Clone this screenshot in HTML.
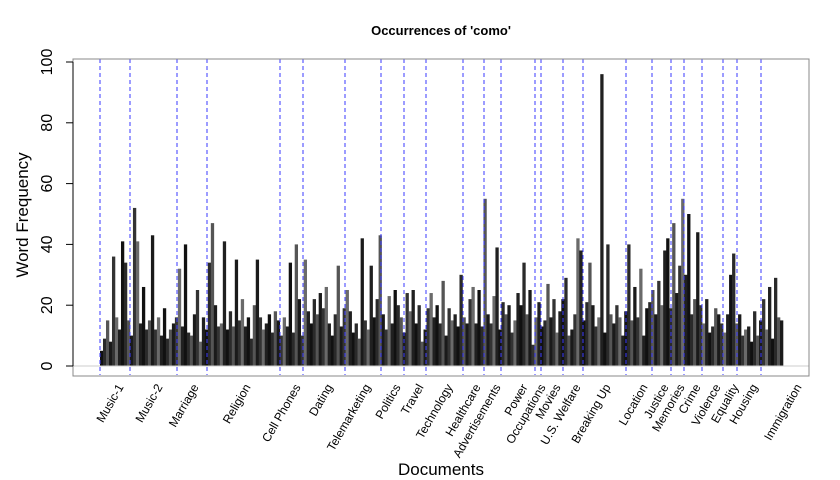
<!DOCTYPE html>
<html><head><meta charset="utf-8"><style>body{margin:0;background:#fff}svg{display:block;font-family:"Liberation Sans",sans-serif}</style></head>
<body>
<svg id="chart" width="840" height="480" viewBox="0 0 840 480">
<text x="441" y="35" text-anchor="middle" font-size="13" font-weight="bold">Occurrences of 'como'</text>
<text transform="translate(28,215) rotate(-90)" text-anchor="middle" font-size="17">Word Frequency</text>
<text x="441" y="475" text-anchor="middle" font-size="17">Documents</text>
<g id="bars"></g>
<g id="vlines"></g>
<g id="axes"></g>
</svg>
<script>
const values = [
5,9,15,8,36,16,12,41,34,15,
10,52,41,14,26,12,15,43,12,16,
10,19,9,12,14,16,32,13,40,11,
10,17,25,8,16,12,34,47,20,13,
14,41,12,18,13,35,15,22,13,16,
9,20,35,16,12,14,17,11,18,15,
10,16,13,34,11,40,22,10,35,18,
14,22,17,24,19,26,14,10,17,33,
13,19,25,18,11,14,9,42,15,12,
33,16,22,43,17,12,23,14,25,20,
16,11,24,18,25,14,20,8,12,19,
24,16,20,14,28,10,19,15,17,13,
30,16,14,22,26,14,25,13,55,17,
14,23,39,12,21,17,20,11,15,24,
20,34,17,25,7,16,21,13,15,27,
16,22,11,18,22,29,10,12,17,42,
38,15,21,34,20,13,16,96,11,40,
17,14,20,16,10,18,40,15,26,16,
32,10,19,21,25,17,28,20,38,42,
19,47,24,33,55,30,50,17,22,44,
20,14,22,11,13,19,17,14,11,17,
30,37,14,17,10,12,13,8,18,10,
15,22,12,26,9,29,16,15];
const categories = ["Music-1","Music-2","Marriage","Religion","Cell Phones","Dating","Telemarketing","Politics","Travel","Technology","Healthcare","Advertisements","Power","Occupations","Movies","U.S. Welfare","Breaking Up","Location","Justice","Memories","Crime","Violence","Equality","Housing","Immigration"];
const categoryPos = [118,157,193,245,295,327,365,395,418,447,475,495,522,540,555,575,605,642,663,679,695,715,733,752,796];
const dividers = [100,130,177,207,280,303,345,381,404,426,463,484,501,535,541,563,583,626,652,671,684,702,723,737,761];
const yTicks = [0,20,40,60,80,100];

const NS="http://www.w3.org/2000/svg";
function mk(tag,attrs,parent){const e=document.createElementNS(NS,tag);for(const k in attrs)e.setAttribute(k,attrs[k]);parent.appendChild(e);return e;}
const y0=366, yPer=3.04;
function yScale(v){return y0-v*yPer;}
const xStart=100, xEnd=783, bw=(xEnd-xStart)/values.length;
function xScale(i){return xStart+i*bw;}
const bars=document.getElementById('bars');
const shades=['#111','#2a2a2a','#555','#1a1a1a','#333','#6a6a6a','#202020'];
values.forEach((v,i)=>{
  const r=mk('rect',{x:xScale(i),y:yScale(v),width:bw+0.3,height:v*yPer,fill:shades[i%shades.length]},bars);
  
  
});
const vl=document.getElementById('vlines');
dividers.forEach(x=>{
  const l=mk('line',{x1:x,x2:x,y1:59,y2:375,stroke:'#3a3aff','stroke-width':1,'stroke-dasharray':'4,3'},vl);
  
  
});
const ax=document.getElementById('axes');
mk('line',{x1:73,x2:809,y1:366,y2:366,stroke:'#ccc'},ax);
mk('rect',{x:73,y:59,width:736,height:317,fill:'none',stroke:'#888'},ax);
mk('line',{x1:73,x2:73,y1:62,y2:366,stroke:'#000'},ax);
yTicks.forEach(t=>{
  const y=yScale(t);
  mk('line',{x1:66,x2:73,y1:y,y2:y,stroke:'#000'},ax);
  const tx=mk('text',{transform:`translate(52,${y}) rotate(-90)`,'text-anchor':'middle','font-size':16},ax);
  tx.textContent=t;
  
  
});
categories.forEach((c,i)=>{
  const x=categoryPos[i];
  const t=mk('text',{transform:`translate(${x+6},387) rotate(-60)`,'text-anchor':'end','font-size':12},ax);
  t.textContent=c;
  
  
});
</script>
</body></html>
